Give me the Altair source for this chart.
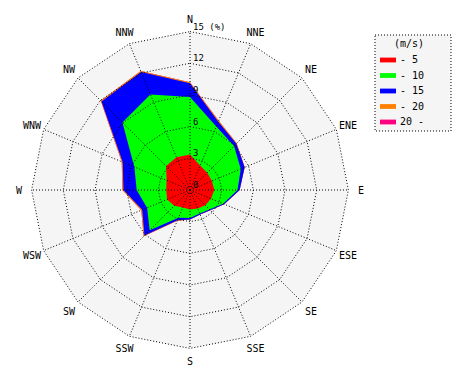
import altair as alt
import pandas as pd
import numpy as np

# ---- data ----
directions = ["N", "NNE", "NE", "ENE", "E", "ESE", "SE", "SSE",
              "S", "SSW", "SW", "WSW", "W", "WNW", "NW", "NNW"]
classes = ["- 5", "- 10", "- 15", "- 20", "20 -"]
colors = ["#ff0000", "#00ff00", "#0000ff", "#ff8000", "#ff0080"]

# frequency (%) of each speed class per direction, N clockwise
freq_0_5 = [3.35, 2.5, 2.3, 2.25, 2.3, 2.15, 2.05, 1.9, 1.85, 1.8, 2.1, 2.35, 2.25, 2.4, 3.2, 3.35]
freq_5_10 = [5.45, 4.0, 3.6, 2.95, 2.2, 1.25, 0.55, 0.5, 0.8, 1.05, 3.3, 2.05, 2.8, 3.3, 5.85, 6.45]
freq_10_15 = [1.3, 0.5, 0.3, 0.4, 0.2, 0.1, 0.1, 0.1, 0.15, 0.25, 0.7, 0.5, 1.25, 1.2, 2.8, 2.3]
freq_15_20 = [0.1, 0.1, 0.05, 0.0, 0.0, 0.0, 0.0, 0.0, 0.0, 0.05, 0.1, 0.1, 0.1, 0.1, 0.1, 0.1]
freq_20_up = [0.0, 0.0, 0.0, 0.0, 0.0, 0.0, 0.0, 0.0, 0.0, 0.0, 0.0, 0.0, 0.0, 0.0, 0.0, 0.0]

ring_values = [3, 6, 9, 12, 15]
ring_label_values = [0, 3, 6, 9, 12, 15]
ring_label_texts = ["0", "3", "6", "9", "12", "15 (%)"]
r_max = 15
label_radius = 16.2

# ---- tables ----
series = [freq_0_5, freq_5_10, freq_10_15, freq_15_20, freq_20_up]
cum = np.cumsum(np.array(series), axis=0)
rows = []
for k, cls in enumerate(classes):
    for i, d in enumerate(directions):
        rows.append({"cls": cls, "k": k, "i": i, "dir": d, "r": float(cum[k][i])})
poly_df = pd.DataFrame(rows)

ring_df = pd.DataFrame([{"ring": rv, "i": i, "r": rv}
                        for rv in ring_values for i in range(len(directions))])
spoke_df = pd.DataFrame({"i": list(range(len(directions))), "r": [r_max] * len(directions)})
bg_df = pd.DataFrame({"i": list(range(len(directions))), "r": [r_max] * len(directions)})
dirlab_df = pd.DataFrame({"i": list(range(len(directions))), "dir": directions,
                          "r": [label_radius] * len(directions)})
ringlab_df = pd.DataFrame({"r": ring_label_values, "txt": ring_label_texts, "i": [0] * 6})

xs = alt.Scale(domain=[-17.235, 25.757], nice=False, zero=False)
ys = alt.Scale(domain=[-17.235, 17.235], nice=False, zero=False)

def geo(ch):
    return ch.transform_calculate(
        ang="datum.i * 22.5 * PI / 180",
    ).transform_calculate(
        x="datum.r * sin(datum.ang)",
        y="datum.r * cos(datum.ang)",
        x0="0",
        y0="0",
    )

X = alt.X("x:Q", scale=xs, axis=None)
Y = alt.Y("y:Q", scale=ys, axis=None)

bg = geo(alt.Chart(bg_df)).mark_line(
    interpolate="linear-closed", filled=True, color="#f5f5f5", strokeWidth=0
).encode(x=X, y=Y, order="i:Q")

# legend frame (decoration)
frame = alt.Chart(pd.DataFrame({"a": [0]})).mark_rect(
    fill="#f5f5f5", stroke="black", strokeWidth=1, strokeDash=[1, 2]
).encode(x=alt.value(367), x2=alt.value(443), y=alt.value(27), y2=alt.value(123))

legend = alt.Legend(
    title="(m/s)", orient="none", legendX=367, legendY=26,
    padding=5,
    symbolType="M-1,-0.3H1V0.3H-1Z", symbolSize=256, symbolStrokeWidth=0,
    labelFont="DejaVu Sans Mono", labelFontSize=10, labelOffset=4,
    titleFont="DejaVu Sans Mono", titleFontSize=10, titleFontWeight="normal",
    titleAnchor="end", rowPadding=2.5, titlePadding=3,
)

polys = []
for k in reversed(range(len(classes))):
    polys.append(
        geo(alt.Chart(poly_df)).transform_filter(f"datum.k == {k}").mark_line(
            interpolate="linear-closed", filled=True, strokeWidth=0
        ).encode(
            x=X, y=Y, order="i:Q",
            color=alt.Color("cls:N", scale=alt.Scale(domain=classes, range=colors), legend=legend),
        )
    )

rings = geo(alt.Chart(ring_df)).mark_line(
    interpolate="linear-closed", color="black", strokeWidth=1, strokeDash=[1, 2]
).encode(x=X, y=Y, detail="ring:N", order="i:Q")

spokes = geo(alt.Chart(spoke_df)).mark_rule(
    color="black", strokeWidth=1, strokeDash=[1, 2]
).encode(x=alt.X("x0:Q", scale=xs, axis=None), y=alt.Y("y0:Q", scale=ys, axis=None),
         x2="x:Q", y2="y:Q")

dirlabels = geo(alt.Chart(dirlab_df)).mark_text(
    font="DejaVu Sans Mono", fontSize=10, align="center", baseline="middle", color="black", dy=1
).encode(x=X, y=Y, text="dir:N")

ringlabels = geo(alt.Chart(ringlab_df)).mark_text(
    font="DejaVu Sans Mono", fontSize=9, align="left", baseline="alphabetic",
    dx=3, dy=-2, color="black"
).encode(x=X, y=Y, text="txt:N")

chart = alt.layer(bg, frame, *polys, rings, spokes, dirlabels, ringlabels).properties(
    width=454, height=364, padding=0,
    autosize=alt.AutoSizeParams(type="none"),
).configure_view(strokeWidth=0)

chart.save("out.html", embed_options={"renderer": "svg", "actions": False})
